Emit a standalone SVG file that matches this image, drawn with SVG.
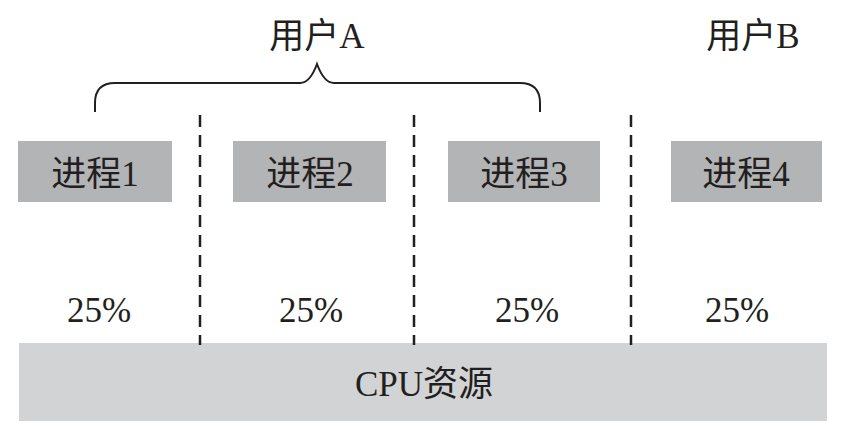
<svg xmlns="http://www.w3.org/2000/svg" width="851" height="438" viewBox="0 0 851 438">
<style>
.t{font-family:"Liberation Serif","Noto Sans CJK SC",serif;font-size:35px;fill:#231f20;text-anchor:middle}
.proc{fill:#b3b4b6}
.dash{stroke:#231f20;stroke-width:2.5;stroke-dasharray:12,8;fill:none}
</style>
<rect width="851" height="438" fill="#fff"/>
<g id="cpu"><rect x="19" y="343" width="808" height="78" fill="#d2d3d5"/><text class="t" x="424" y="396">CPU资源</text></g>
<g id="connectors">
<line class="dash" x1="200" y1="115" x2="200" y2="345"/>
<line class="dash" x1="414" y1="115" x2="414" y2="345"/>
<line class="dash" x1="631" y1="115" x2="631" y2="345"/>
<path d="M95,112 V103 Q95,83 115,83 H300 Q310,83 317,64 Q324,83 334,83 H520 Q540,83 540,103 V112" fill="none" stroke="#231f20" stroke-width="2"/>
</g>
<g id="userA"><text class="t" x="317" y="48">用户A</text></g>
<g id="userB"><text class="t" x="753" y="48">用户B</text></g>
<g id="p1"><rect class="proc" x="18" y="141" width="154" height="61"/><text class="t" x="95" y="186">进程1</text></g>
<g id="p2"><rect class="proc" x="233" y="141" width="153" height="61"/><text class="t" x="310" y="186">进程2</text></g>
<g id="p3"><rect class="proc" x="448" y="141" width="152" height="61"/><text class="t" x="524" y="186">进程3</text></g>
<g id="p4"><rect class="proc" x="671" y="141" width="151" height="61"/><text class="t" x="746" y="186">进程4</text></g>
<g id="pct">
<text class="t" x="99" y="322">25%</text>
<text class="t" x="311" y="322">25%</text>
<text class="t" x="527" y="322">25%</text>
<text class="t" x="737" y="322">25%</text>
</g>
</svg>
